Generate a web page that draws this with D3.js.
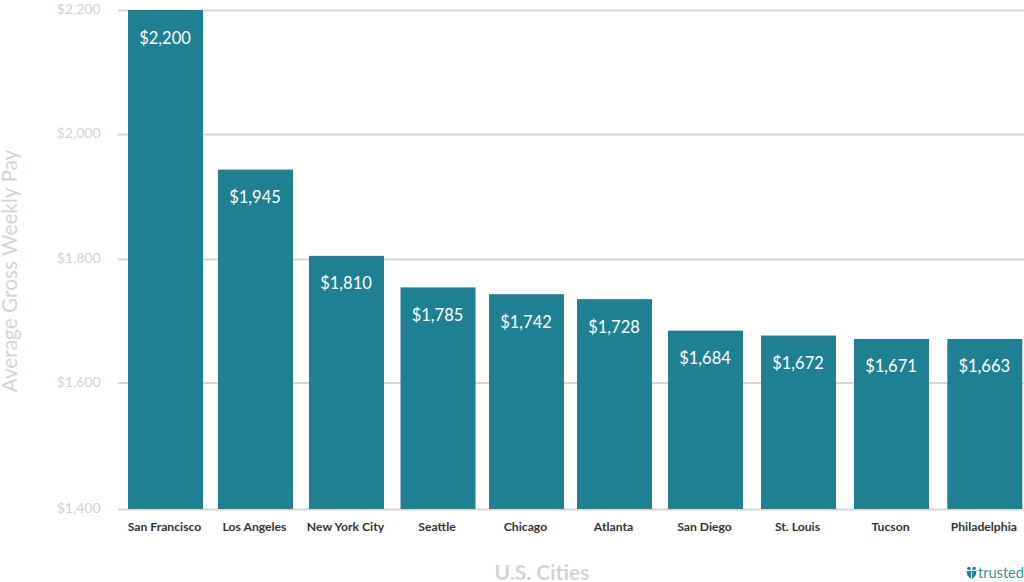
<!DOCTYPE html>
<html><head><meta charset="utf-8">
<script src="https://cdn.jsdelivr.net/npm/d3@7/dist/d3.min.js"></script>
<style>html,body{margin:0;padding:0;background:#fff}svg{display:block}text{font-family:Lato,sans-serif}</style>
</head><body><svg id="c" width="1024" height="582"></svg>
<script>
const categories=["San Francisco","Los Angeles","New York City","Seattle","Chicago","Atlanta","San Diego","St. Louis","Tucson","Philadelphia"];
const barHeights=[2200,1943,1805,1754,1743,1735,1684,1676,1670.5,1670.5];
const valueLabels=["$2,200","$1,945","$1,810","$1,785","$1,742","$1,728","$1,684","$1,672","$1,671","$1,663"];
const yTicks=[1400,1600,1800,2000,2200];
const barCenters=[165.5,255.5,346.5,438,526.5,614.5,705.5,798.5,891.5,984.8];
const tickRows=[509,382.5,259,134,10];
const bw=75,plotLeft=118,plotRight=1024;
const svg=d3.select("#c");
const x=d3.scaleOrdinal(categories,barCenters);
const y=d3.scaleLinear().domain(yTicks).range(tickRows);
const yAxis=d3.axisLeft(y).tickValues(yTicks).tickFormat(d=>"$"+d3.format(",")(d)).tickSize(-(plotRight-plotLeft)).tickPadding(17.5);
const gy=svg.append("g").attr("transform",`translate(${plotLeft},0)`).call(yAxis);
gy.select(".domain").remove();
gy.selectAll("line").attr("stroke","#d6d6d6").attr("stroke-width",2);
gy.selectAll("text").attr("fill","#d2d2d2").attr("font-size",14).attr("dy","0.25em");
svg.selectAll("rect.bar").data(categories).join("rect").attr("class","bar")
  .attr("x",d=>x(d)-bw/2).attr("width",bw)
  .attr("y",(d,i)=>y(barHeights[i])).attr("height",(d,i)=>y(1400)-y(barHeights[i]))
  .attr("fill","#1e8092");
svg.selectAll("text.val").data(categories).join("text").attr("class","val")
  .attr("x",d=>x(d)-0.5).attr("y",(d,i)=>y(barHeights[i])+33.5)
  .attr("text-anchor","middle").attr("fill","#fff").attr("font-size",16.5)
  .text((d,i)=>valueLabels[i]);
svg.selectAll("text.cat").data(categories).join("text").attr("class","cat")
  .attr("x",d=>x(d)-1).attr("y",531)
  .attr("text-anchor","middle").attr("fill","#333").attr("font-size",12.2).attr("font-weight",700)
  .text(d=>d);
svg.append("text").attr("transform","translate(16.5,271) rotate(-90)").attr("text-anchor","middle")
  .attr("fill","#d4d4d4").attr("font-size",20.8).text("Average Gross Weekly Pay");
svg.append("text").attr("x",542).attr("y",580).attr("text-anchor","middle")
  .attr("fill","#d4d4d4").attr("font-size",21).attr("font-weight",700).text("U.S. Cities");
svg.append("text").attr("x",1024).attr("y",578).attr("text-anchor","end")
  .attr("fill","#3f8f9f").attr("font-size",14.6).text("trusted");
const logo=svg.append("g").attr("fill","#1e8092").attr("transform","translate(971.5,574)");
logo.append("circle").attr("cx",-2.6).attr("cy",-5.6).attr("r",1.7);
logo.append("circle").attr("cx",2.6).attr("cy",-5.6).attr("r",1.7);
logo.append("path").attr("d",d3.line()([[-0.5,-3],[-5,-3],[-4,1.5],[-0.5,5]]));
logo.append("path").attr("d",d3.line()([[0.5,-3],[5,-3],[4,1.5],[0.5,5]]));
</script></body></html>
